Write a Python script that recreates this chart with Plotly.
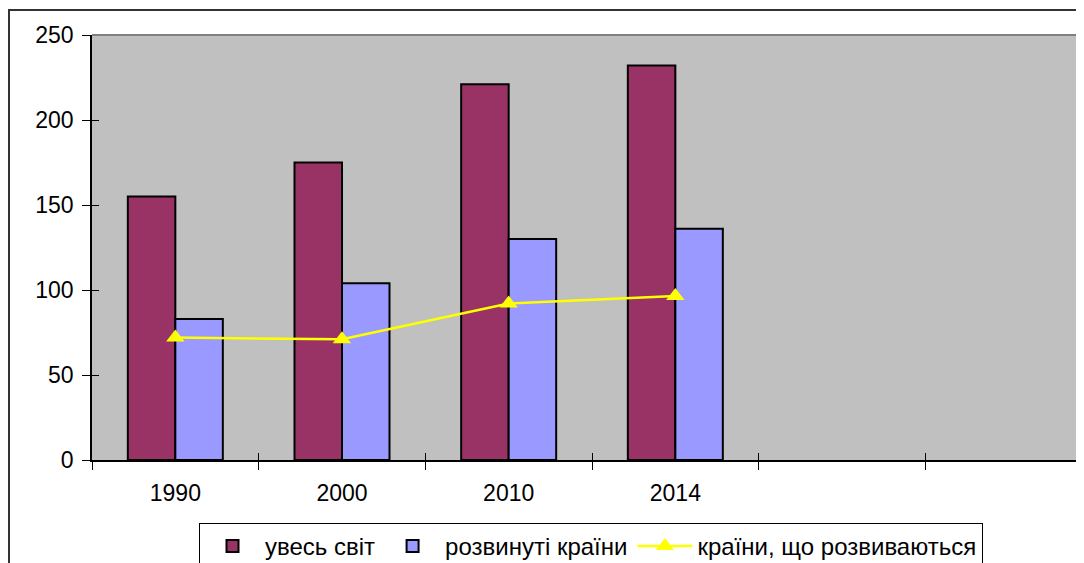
import plotly.graph_objects as go

categories = ['1990', '2000', '2010', '2014']
extra_slots = [' ', '  ']
world = [155, 175, 221, 232]
developed = [83, 104, 130, 136]
developing = [72, 71, 92, 96.5]
names = ['увесь світ', 'розвинуті країни', 'країни, що розвиваються']
y_ticks = [0, 50, 100, 150, 200, 250]

FONT = 'Liberation Sans, Arial, sans-serif'
FS = 23
W, H = 1084, 590
L, R, T = 84, 0, 27
ph = 425
B = H - T - ph
pw = W - L - R
cat_order = categories + extra_slots
xr = [-0.5, 5.5]

fig = go.Figure()
fig.add_trace(go.Bar(x=categories, y=world, name=names[0],
                     marker=dict(color='#993366', line=dict(color='black', width=2))))
fig.add_trace(go.Bar(x=categories, y=developed, name=names[1],
                     marker=dict(color='#9999FF', line=dict(color='black', width=2))))
fig.add_trace(go.Scatter(x=categories, y=developing, name=names[2], mode='lines+markers',
                         line=dict(color='#FFFF00', width=2.5),
                         marker=dict(symbol='triangle-up', size=16, color='#FFFF00')))
# dummy trace for the overlay axes (inside halves of the crossing ticks)
fig.add_trace(go.Scatter(x=categories, y=developing, xaxis='x2', yaxis='y2', mode='none',
                         showlegend=False, hoverinfo='skip'))

fig.update_layout(
    width=W, height=H,
    margin=dict(l=L, r=R, t=T, b=B, pad=0, autoexpand=False),
    paper_bgcolor='white', plot_bgcolor='#C0C0C0',
    barmode='group', bargap=0.43, bargroupgap=0,
    font=dict(family=FONT, size=FS, color='black'),
    showlegend=True,
    legend=dict(orientation='h', x=(591 - 8 - L) / pw, xanchor='center',
                y=-(523 - 8 - (T + ph)) / ph, yanchor='top',
                bgcolor='white', bordercolor='black', borderwidth=1,
                font=dict(family=FONT, size=24), itemwidth=55,
                tracegroupgap=0, traceorder='normal'),
    xaxis=dict(type='category', categoryorder='array', categoryarray=cat_order,
               range=xr, tickson='boundaries', ticks='outside', ticklen=8,
               tickcolor='black', tickwidth=1, showline=True, linecolor='black',
               linewidth=1.5, showgrid=False, zeroline=False, ticklabelstandoff=12,
               tickfont=dict(family=FONT, size=FS)),
    yaxis=dict(range=[0, 250], tickvals=y_ticks, ticks='outside', ticklen=8,
               tickcolor='black', tickwidth=1, showline=True, linecolor='black',
               linewidth=1.5, showgrid=False, zeroline=False, ticklabelstandoff=4,
               tickfont=dict(family=FONT, size=FS)),
    xaxis2=dict(type='category', categoryorder='array', categoryarray=cat_order,
                range=xr, overlaying='x', tickson='boundaries', ticks='inside', ticklen=7,
                tickcolor='black', tickwidth=1, showticklabels=False, showline=False,
                showgrid=False, zeroline=False),
    yaxis2=dict(range=[0, 250], tickvals=y_ticks, overlaying='y', ticks='inside', ticklen=7,
                tickcolor='black', tickwidth=1, showticklabels=False, showline=False,
                showgrid=False, zeroline=False),
)

# plot-area top border (gray) and chart outer frame
fig.add_shape(type='line', xref='paper', yref='paper', x0=0, x1=1, y0=1, y1=1,
              line=dict(color='#808080', width=2))
fig.add_shape(type='rect', xref='paper', yref='paper',
              x0=(1 - L) / pw, x1=1.2, y0=-0.6, y1=(ph + T - 2) / ph,
              line=dict(color='#333333', width=2), layer='below')

fig.write_html('out.html')
